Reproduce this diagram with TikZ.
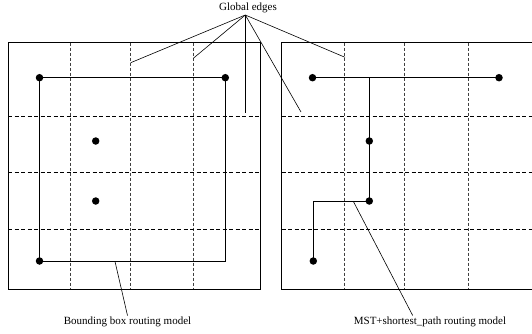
\documentclass[tikz,border=0pt]{standalone}
\usepackage{fontspec}
\setmainfont{Liberation Serif}
\begin{document}
\begin{tikzpicture}[x=1pt,y=-1pt,
  box/.style={draw=black,line width=0.8pt},
  hgrid/.style={draw=black,line width=0.6pt,dash pattern=on 4pt off 2.5pt},
  vgrid/.style={draw=black!75,line width=0.6pt,dash pattern=on 3pt off 2pt},
  route/.style={draw=black,line width=0.8pt},
  pointer/.style={draw=black,line width=0.6pt},
  dot/.style={circle,fill=black,inner sep=0pt,minimum size=7.5pt},
  lbl/.style={font=\fontsize{11}{13}\selectfont,inner sep=1pt}]
\clip (0,0) rectangle (532,333);
% boxes
\draw[box] (8,42.5) rectangle (260.5,289);
\draw[box] (281.5,42.5) rectangle (560,289);
% grid of the left box
\foreach \x in {70,130.7,193.5} \draw[vgrid] (\x,42.5) -- (\x,289);
\foreach \y in {116.7,172.7,229.3} \draw[hgrid] (8,\y) -- (260.5,\y);
% grid of the right box
\foreach \x in {344.3,404.3,468} \draw[vgrid] (\x,42.5) -- (\x,289);
\foreach \y in {116.7,172.7,229.3} \draw[hgrid] (281.5,\y) -- (560,\y);
% pins, left
\node[dot] (la) at (39.5,77.7) {};
\node[dot] (lb) at (225.3,77.7) {};
\node[dot] (lc) at (95.7,141) {};
\node[dot] (ld) at (95.7,201) {};
\node[dot] (le) at (39.5,261) {};
\coordinate (lf) at (225.3,261);
% pins, right
\node[dot] (ra) at (312.5,77.7) {};
\node[dot] (rb) at (499,77.7) {};
\node[dot] (rc) at (369.3,141) {};
\node[dot] (rd) at (369.3,201) {};
\node[dot] (re) at (313.3,261) {};
\coordinate (rj) at (369.3,77.7);
\coordinate (rk) at (313.3,201);
% routes
\draw[route] (la.center) -- (lb.center) -- (lf) -- (le.center) -- cycle;
\draw[route] (ra.center) -- (rb.center);
\draw[route] (rj) -- (rc.center) -- (rd.center) -- (rk) -- (re.center);
% labels
\node[lbl] (ge) at (248,7.5) {Global edges};
\coordinate (apex) at (245.3,15);
\coordinate (g1) at (130.7,62.7);
\coordinate (g2) at (193.3,58.3);
\coordinate (g3) at (245.3,113.3);
\coordinate (g4) at (301,112);
\coordinate (g5) at (345,57.3);
\foreach \g in {g1,g2,g3,g4,g5} \draw[pointer] (apex) -- (\g);
\node[lbl] (bb) at (127.5,321.7) {Bounding box routing model};
\node[lbl] (mst) at (430,321.7) {MST+shortest\_path routing model};
\coordinate (bp) at (115,261.5);
\coordinate (mp) at (353.3,201.3);
\draw[pointer] (bp) -- (bb.north);
\draw[pointer] (mp) -- (mst.north -| 412.7,0);
\end{tikzpicture}
\end{document}
